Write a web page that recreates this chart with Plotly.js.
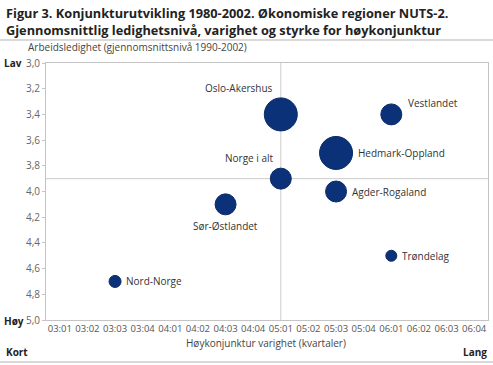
<!DOCTYPE html>
<html><head><meta charset="utf-8">
<script src="https://cdn.plot.ly/plotly-3.0.1.min.js"></script>
<style>html,body{margin:0;padding:0;background:#fff}#chart{width:493px;height:365px}</style>
</head><body><div id="chart"></div>
<script>
const quarters = ["03:01","03:02","03:03","03:04","04:01","04:02","04:03","04:04","05:01","05:02","05:03","05:04","06:01","06:02","06:03","06:04"];
const regions = ["Oslo-Akershus","Vestlandet","Hedmark-Oppland","Norge i alt","Agder-Rogaland","Sør-Østlandet","Trøndelag","Nord-Norge"];
const duration = ["05:01","06:01","05:03","05:01","05:03","04:03","06:01","03:03"];
const unemployment = [3.4,3.4,3.7,3.9,4.0,4.1,4.5,4.7];
const strength = [33,21,33,21,21,21,11,12];
const labelPos = ["topleft","topright","right","topleft","right","bottom","right","right"];
const yTicks = [3.0,3.2,3.4,3.6,3.8,4.0,4.2,4.4,4.6,4.8,5.0];

const font = "Open Sans, sans-serif";
const navy = "#0b3279";
const T = 63, B = 320, L = 46, R = 488;

const annotations = regions.map((r,i)=>{
  const s = strength[i]/2;
  const p = labelPos[i];
  const a = {x: duration[i], y: unemployment[i], xref:'x', yref:'y', text: r, showarrow:false,
    font:{family:font, size:10, color:'#333'}};
  if (p==='right'){ a.xanchor='left'; a.yanchor='middle'; a.xshift=s+3; }
  else if (p==='topright'){ a.xanchor='left'; a.yanchor='middle'; a.xshift=s+4; a.yshift=11; }
  else if (p==='topleft'){ a.xanchor='right'; a.yanchor='bottom'; a.xshift=-6; a.yshift=s+1; }
  else if (p==='bottom'){ a.xanchor='center'; a.yanchor='top'; a.yshift=-s-2; }
  return a;
});
const px = x => (x-L)/(R-L);
const py = y => 1-(y-T)/(B-T);
const extra = [
  {text:"<b>Figur 3. Konjunkturutvikling 1980-2002. Økonomiske regioner NUTS-2.</b><br><b>Gjennomsnittlig ledighetsnivå, varighet og styrke for høykonjunktur</b>", x:4, y:2, yanchor:'top', size:12.75, color:'#222'},
  {text:"Arbeidsledighet (gjennomsnittsnivå 1990-2002)", x:26, y:47, size:10, color:'#444'},
  {text:"<b>Lav</b>", x:2, y:63, size:10, color:'#222'},
  {text:"<b>Høy</b>", x:2, y:321, size:10, color:'#222'},
  {text:"<b>Kort</b>", x:4, y:352, size:10, color:'#222'},
  {text:"<b>Lang</b>", x:489, y:352, size:10, color:'#222', xanchor:'right'},
  {text:"Høykonjunktur varighet (kvartaler)", x:266, y:343, size:10, color:'#444', xanchor:'center'}
];
extra.forEach(e=>{
  annotations.push({text:e.text, xref:'paper', yref:'paper', showarrow:false,
    x:px(e.x), y:py(e.y),
    xanchor:e.xanchor||'left', yanchor:e.yanchor||'middle', align:'left',
    font:{family:font,size:e.size,color:e.color}});
});

const vx = quarters.indexOf("05:01");
const trace = {
  x: duration, y: unemployment, type:'scatter', mode:'markers',
  marker:{size:strength, sizemode:'diameter', color:navy, line:{color:'#0a2a66', width:1}, opacity:1},
  hoverinfo:'skip', cliponaxis:false
};
const layout = {
  width:493, height:365, margin:{l:L,r:493-R,t:T,b:365-B},
  paper_bgcolor:'#fff', plot_bgcolor:'#fff', showlegend:false, separators:', ',
  font:{family:font},
  xaxis:{type:'category', categoryorder:'array', categoryarray:quarters, tickvals:quarters, ticktext:quarters,
    range:[-0.5,15.5], showgrid:false, zeroline:false, showline:true, mirror:true, linecolor:'#c4c4c4', linewidth:1,
    ticks:'', tickfont:{family:font,size:9.5,color:'#555'}},
  yaxis:{range:[5.0,3.0], tickvals:yTicks, tickformat:'.1f', showgrid:false, zeroline:false, showline:true, mirror:true,
    linecolor:'#c4c4c4', linewidth:1, ticks:'outside', ticklen:3, tickcolor:'#c4c4c4',
    tickfont:{family:font,size:10,color:'#666'}},
  shapes:[
    {type:'line', xref:'paper', yref:'y', x0:0, x1:1, y0:3.9, y1:3.9, line:{color:'#ccc', width:1}, layer:'below'},
    {type:'line', xref:'x', yref:'paper', x0:vx, x1:vx, y0:0, y1:1, line:{color:'#ccc', width:1}, layer:'below'},
    {type:'line', xref:'paper', yref:'paper', x0:px(0), x1:px(493), y0:py(40), y1:py(40), line:{color:'#ccc', width:1.5}},
    {type:'line', xref:'paper', yref:'paper', x0:px(0), x1:px(493), y0:py(362), y1:py(362), line:{color:'#ccc', width:1.5}}
  ],
  annotations: annotations
};
Plotly.newPlot('chart',[trace],layout,{displayModeBar:false, staticPlot:true});
</script></body></html>
